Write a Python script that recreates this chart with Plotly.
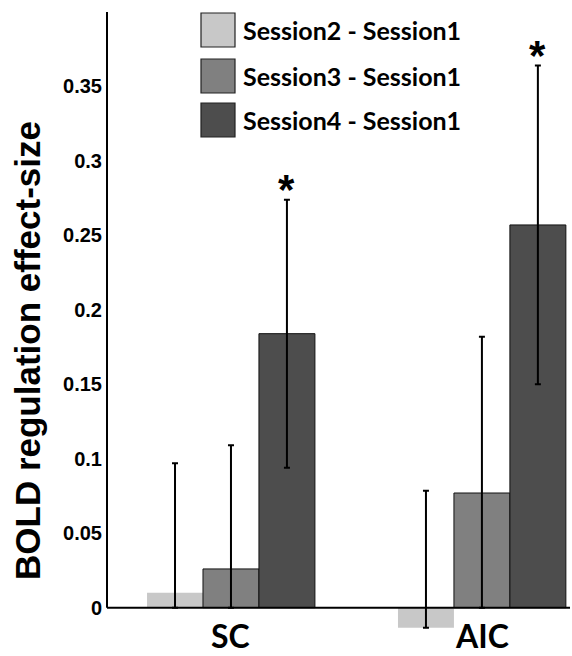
import plotly.graph_objects as go

# Regions of interest and session contrasts
regions = ["SC", "AIC"]
contrasts = ["Session2 - Session1", "Session3 - Session1", "Session4 - Session1"]

# Mean BOLD regulation effect-size per contrast (SC, AIC)
s2_minus_s1 = [0.010, -0.0135]
s3_minus_s1 = [0.026, 0.077]
s4_minus_s1 = [0.184, 0.257]

# Error bar extents above / below each mean
s2_err_upper = [0.087, 0.092]
s3_err_upper = [0.083, 0.105]
s4_err_upper = [0.090, 0.107]
s2_err_lower = [0.010, 0.0]
s3_err_lower = [0.026, 0.077]
s4_err_lower = [0.090, 0.107]

# Significant contrasts get an asterisk
s4_significant = [True, True]

y_ticks = [0, 0.05, 0.1, 0.15, 0.2, 0.25, 0.3, 0.35]
y_tick_text = ["0", "0.05", "0.1", "0.15", "0.2", "0.25", "0.3", "0.35"]

fill_colors = ["#c8c8c8", "#808080", "#4d4d4d"]
edge_widths = [0, 1, 1]

W, H = 572, 656
M_L, M_R, M_T, M_B = 107, 2, 12, 26
PW, PH = W - M_L - M_R, H - M_T - M_B


def px_x(px):
    return (px - M_L) / PW


def px_y(py):
    return (H - M_B - py) / PH


values = [s2_minus_s1, s3_minus_s1, s4_minus_s1]
uppers = [s2_err_upper, s3_err_upper, s4_err_upper]
lowers = [s2_err_lower, s3_err_lower, s4_err_lower]
xpos = list(range(len(regions)))

fig = go.Figure()
for name, vals, up, lo, col, ew in zip(contrasts, values, uppers, lowers,
                                       fill_colors, edge_widths):
    fig.add_trace(go.Bar(
        name=name, x=xpos, y=vals,
        marker=dict(color=col, line=dict(color="#111111", width=ew)),
        error_y=dict(type="data", symmetric=False, array=up, arrayminus=lo,
                     color="#000000", thickness=2, width=3),
        showlegend=False,
    ))

font_main = "Lato, Open Sans, sans-serif"
font_axis = "Liberation Sans, Arial, sans-serif"

annotations = []
# Asterisks above significant Session4 bars (third bar of each group)
group_w = 1 - 0.331
for i, sig in enumerate(s4_significant):
    if sig:
        annotations.append(dict(
            x=xpos[i] + group_w / 3, y=s4_minus_s1[i] + s4_err_upper[i],
            xref="x", yref="y", text="<b>*</b>", showarrow=False,
            font=dict(family=font_axis, size=42, color="#000"),
            yanchor="bottom", yshift=-15,
        ))

# Region labels under the groups
for i, r in enumerate(regions):
    annotations.append(dict(
        x=xpos[i], y=px_y(635), xref="x", yref="paper", text=r,
        showarrow=False, yanchor="middle", borderpad=0,
        font=dict(family=font_main, size=32, color="#000", weight="bold"),
    ))

# Y axis title
annotations.append(dict(
    x=px_x(27), y=px_y(351), xref="paper", yref="paper",
    text="BOLD regulation effect-size", textangle=-90, showarrow=False,
    xanchor="center", yanchor="middle",
    font=dict(family=font_axis, size=35, color="#000", weight="bold"),
))

shapes = []
# Axis lines: y from 0 to top, x along zero
shapes.append(dict(type="line", xref="paper", yref="y", x0=0, x1=0,
                   y0=0, y1=0.4, line=dict(color="#000", width=2), layer="above"))
shapes.append(dict(type="line", xref="paper", yref="y", x0=0, x1=px_x(570),
                   y0=0, y1=0, line=dict(color="#000", width=2), layer="above"))

# Legend drawn as swatches with labels
row_centers = [30, 76, 120]
for name, col, cy in zip(contrasts, fill_colors, row_centers):
    shapes.append(dict(type="rect", xref="paper", yref="paper",
                       x0=px_x(201), x1=px_x(235),
                       y0=px_y(cy + 17), y1=px_y(cy - 17),
                       fillcolor=col, line=dict(color="#222", width=1.2)))
    annotations.append(dict(
        x=px_x(241), y=px_y(cy), xref="paper", yref="paper", text=name,
        showarrow=False, xanchor="left", yanchor="middle",
        font=dict(family=font_main, size=25, color="#000", weight="bold"),
    ))

fig.update_layout(
    width=W, height=H,
    margin=dict(l=M_L, r=M_R, t=M_T, b=M_B),
    paper_bgcolor="white", plot_bgcolor="white",
    barmode="group", bargap=0.331, bargroupgap=0,
    xaxis=dict(range=[-0.494, 1.351], showgrid=False, zeroline=False,
               showline=False, showticklabels=False, ticks=""),
    yaxis=dict(range=[-0.015, 0.4], showgrid=False, zeroline=False,
               showline=False, tickvals=y_ticks, ticktext=y_tick_text,
               ticks="", ticklabelstandoff=4,
               tickfont=dict(family=font_axis, size=20, color="#000",
                             weight="bold")),
    annotations=annotations, shapes=shapes,
)

fig.write_html("out.html")
